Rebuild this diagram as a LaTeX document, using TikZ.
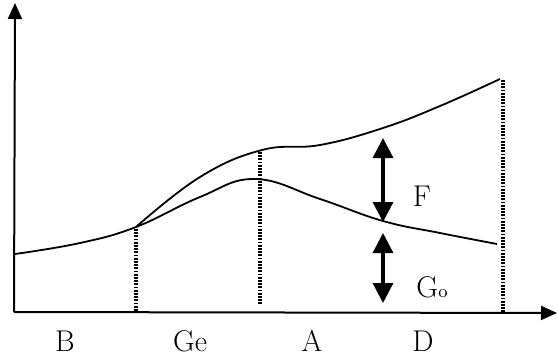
\documentclass[tikz,border=0pt]{standalone}
\usetikzlibrary{arrows.meta}
\begin{document}
\begin{tikzpicture}[x=0.5pt,y=0.5pt,
  axis/.style={line width=1pt, -{Triangle[length=8pt,width=7pt]}},
  curve/.style={line width=0.9pt},
  drop/.style={line width=1.6pt, dash pattern=on 0.9pt off 0.7pt},
  span/.style={line width=1.6pt, {Triangle[length=10pt,width=10pt]}-{Triangle[length=10pt,width=10pt]}},
  lab/.style={font=\fontsize{15}{17}\selectfont}]
\useasboundingbox (0,0) rectangle (558,360);
% axes
\coordinate (o) at (14,48);
\coordinate (ytop) at (15,357);
\coordinate (xend) at (557,47);
\draw[axis] (o) -- (ytop);
\draw[axis] (o) -- (xend);
% curves
\draw[curve] plot[smooth, tension=0.7] coordinates {(15,106) (80,117) (136,133) (200,163) (255,181) (320,161) (383,139) (440,127) (497,116)};
\draw[curve] plot[smooth, tension=0.7] coordinates {(136,133) (200,183) (262,210) (320,215) (383,232) (440,254) (500,281)};
% drop lines
\draw[drop] (136,131) -- (136,48);
\draw[drop] (260,208) -- (260,56);
\draw[drop] (503,280) -- (503,48);
% spans
\coordinate (ftop) at (383,222);
\coordinate (fbot) at (383,138);
\coordinate (gtop) at (383,127);
\coordinate (gbot) at (383,57);
\draw[span] (fbot) -- (ftop);
\draw[span] (gbot) -- (gtop);
\node[lab] (f) at (422,164) {F};
\node[lab] (go) at (432,73) {G{\small o}};
% phases
\node[lab] (b) at (65,19) {B};
\node[lab] (ge) at (190,19) {Ge};
\node[lab] (a) at (312,19) {A};
\node[lab] (d) at (423,19) {D};
\end{tikzpicture}
\end{document}
